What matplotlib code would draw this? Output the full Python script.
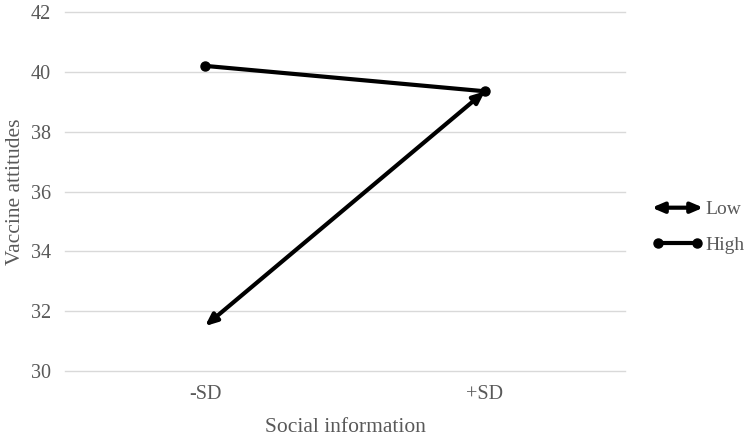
import matplotlib.pyplot as plt
from matplotlib.patches import FancyArrowPatch
from matplotlib.lines import Line2D
from matplotlib.legend_handler import HandlerBase

# Données
categories = ["-SD", "+SD"]
low = [31.5, 39.35]
high = [40.2, 39.35]
y_ticks = [30, 32, 34, 36, 38, 40, 42]

grey = "#595959"
plt.rcParams["font.family"] = ["Liberation Serif", "DejaVu Serif"]

fig = plt.figure(figsize=(7.5, 4.37), dpi=100)
ax = fig.add_axes([0.0867, 0.151, 0.7466, 0.8215])

x = [0, 1]
ax.set_xlim(-0.5, 1.5)
ax.set_ylim(30, 42)

arrow_style = "<|-|>,head_length=0.7,head_width=0.3"

# Série High : ligne avec ronds
ax.plot(x, high, color="black", lw=3, marker="o", markersize=6.5, solid_capstyle="butt")

# Série Low : flèches aux deux extrémités
ax.annotate("", xy=(x[0], low[0]), xytext=(x[1], low[1]),
            arrowprops=dict(arrowstyle=arrow_style, color="black", lw=3,
                            shrinkA=0, shrinkB=0))

ax.set_yticks(y_ticks)
ax.set_xticks(x)
ax.set_xticklabels(categories)
ax.grid(axis="y", color="#d9d9d9", lw=1)
for gl in ax.get_ygridlines():
    gl.set_clip_on(False)
ax.set_axisbelow(True)
for s in ax.spines.values():
    s.set_visible(False)
ax.tick_params(length=0, labelsize=14.5, colors=grey, pad=10)
ax.set_xlabel("Social information", fontsize=15.5, color=grey, labelpad=10)
ax.set_ylabel("Vaccine attitudes", fontsize=15.5, color=grey, labelpad=4)


class ArrowProxy:
    pass


class HandlerDoubleArrow(HandlerBase):
    def create_artists(self, legend, orig, xd, yd, width, height, fontsize, trans):
        y = height / 2 - yd
        a = FancyArrowPatch((-xd, y), (-xd + width, y), arrowstyle=arrow_style,
                            color="black", lw=3, shrinkA=0, shrinkB=0,
                            mutation_scale=10, transform=trans)
        return [a]


h_low = ArrowProxy()
h_high = Line2D([], [], color="black", lw=3, marker="o", markersize=6.5)
leg = fig.legend([h_low, h_high], ["Low", "High"], handler_map={ArrowProxy: HandlerDoubleArrow()},
                 loc="center left", bbox_to_anchor=(0.869, 0.48), frameon=False,
                 fontsize=14, numpoints=2, handlelength=2.65, handletextpad=0.12,
                 labelspacing=0.9, borderpad=0, borderaxespad=0, labelcolor=grey)

fig.savefig("out.png", dpi=100)
